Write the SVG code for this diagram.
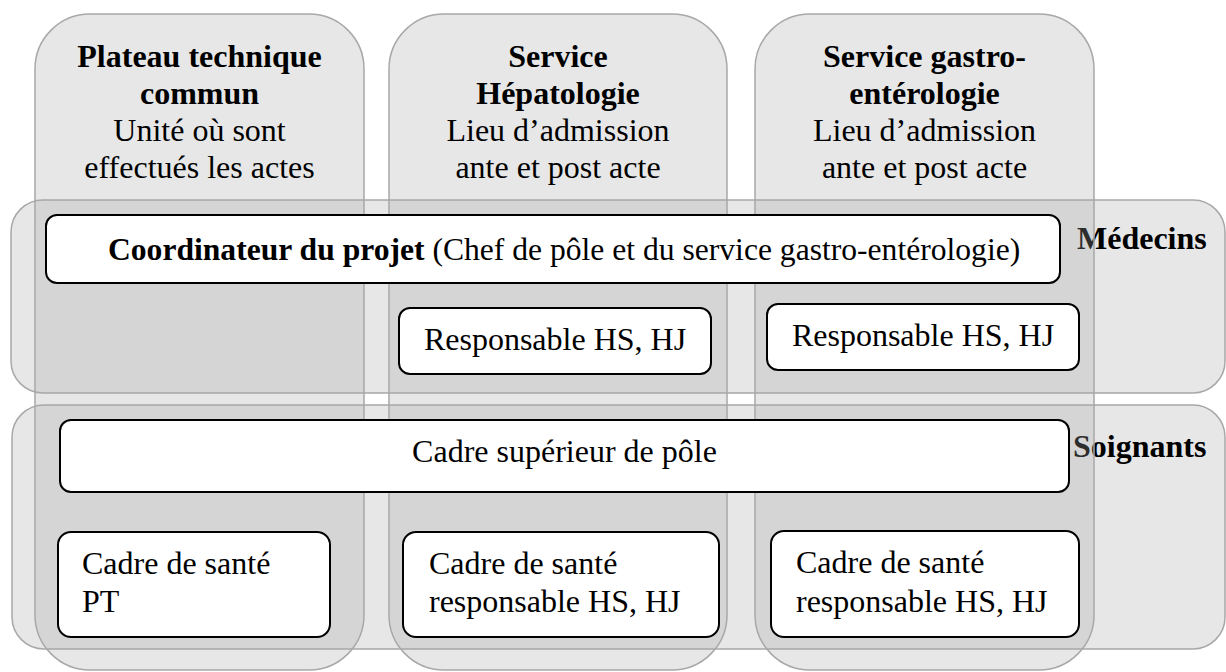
<svg xmlns="http://www.w3.org/2000/svg" width="1226" height="672" viewBox="0 0 1226 672">
<style>
.band{fill:#a6a6a6;fill-opacity:0.27;stroke:#a8a8a8;stroke-width:1.5}
.box{fill:#ffffff;stroke:#000000;stroke-width:2}
text{font-family:"Liberation Serif","Times New Roman",serif;font-size:32px;fill:#000}
.b{font-weight:bold}
.c{text-anchor:middle}
</style>
<rect width="1226" height="672" fill="#ffffff"/>
<g id="row-medecins">
<rect class="band" x="11" y="200" width="1214" height="193" rx="32"/>
</g>
<g id="row-soignants">
<rect class="band" x="12" y="405" width="1213" height="244" rx="32"/>
</g>
<text class="b" x="1077" y="249">Médecins</text>
<text class="b" x="1073" y="457">Soignants</text>
<g id="col-plateau">
<rect class="band" x="35" y="14" width="329" height="656" rx="55"/>
<text class="b c" x="199.5" y="67">Plateau technique</text>
<text class="b c" x="199.5" y="104">commun</text>
<text class="c" x="199.5" y="141">Unité où sont</text>
<text class="c" x="199.5" y="178">effectués les actes</text>
</g>
<g id="col-hepato">
<rect class="band" x="389" y="14" width="338" height="656" rx="55"/>
<text class="b c" x="558" y="67">Service</text>
<text class="b c" x="558" y="104">Hépatologie</text>
<text class="c" x="558" y="141">Lieu d’admission</text>
<text class="c" x="558" y="178">ante et post acte</text>
</g>
<g id="col-gastro">
<rect class="band" x="755" y="14" width="339" height="656" rx="55"/>
<text class="b c" x="924.5" y="67">Service gastro-</text>
<text class="b c" x="924.5" y="104">entérologie</text>
<text class="c" x="924.5" y="141">Lieu d’admission</text>
<text class="c" x="924.5" y="178">ante et post acte</text>
</g>
<g id="coordinateur">
<rect class="box" x="46" y="215" width="1014" height="68" rx="11"/>
<text x="108" y="260" style="font-size:31.6px"><tspan class="b">Coordinateur du projet</tspan> (Chef de pôle et du service gastro-entérologie)</text>
</g>
<g id="resp-hepato">
<rect class="box" x="399" y="308" width="312" height="66" rx="11"/>
<text class="c" x="555" y="350">Responsable HS, HJ</text>
</g>
<g id="resp-gastro">
<rect class="box" x="767" y="304" width="312" height="66" rx="11"/>
<text class="c" x="923" y="346">Responsable HS, HJ</text>
</g>
<g id="cadre-sup">
<rect class="box" x="60" y="420" width="1009" height="72" rx="11"/>
<text class="c" x="564.5" y="462">Cadre supérieur de pôle</text>
</g>
<g id="cadre-pt">
<rect class="box" x="58" y="532" width="272" height="105" rx="13"/>
<text x="82" y="574">Cadre de santé</text>
<text x="82" y="612">PT</text>
</g>
<g id="cadre-hepato">
<rect class="box" x="403" y="532" width="316" height="105" rx="13"/>
<text x="429" y="574">Cadre de santé</text>
<text x="429" y="612">responsable HS, HJ</text>
</g>
<g id="cadre-gastro">
<rect class="box" x="771" y="531" width="308" height="106" rx="13"/>
<text x="796" y="573">Cadre de santé</text>
<text x="796" y="612">responsable HS, HJ</text>
</g>
<g id="connectors"/>
</svg>
